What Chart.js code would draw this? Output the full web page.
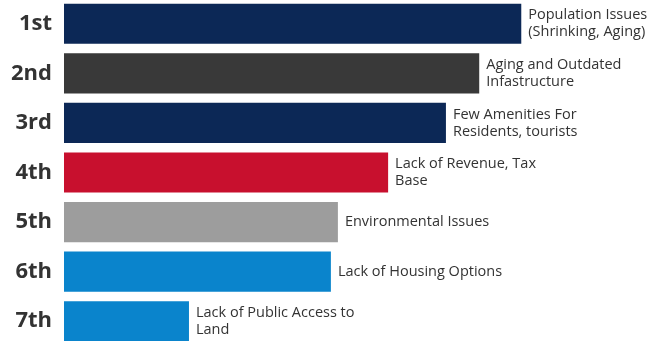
<!DOCTYPE html>
<html>
<head>
<meta charset="utf-8">
<script src="https://cdn.jsdelivr.net/npm/chart.js@4.4.1/dist/chart.umd.min.js"></script>
<style>
  html, body { margin: 0; padding: 0; background: #ffffff; overflow: hidden; }
  #wrap { position: relative; width: 648px; height: 347px; top: -1px; }
</style>
</head>
<body>
<div id="wrap"><canvas id="chart"></canvas></div>
<script>
// Ranked community challenges
const ranks = ['1st', '2nd', '3rd', '4th', '5th', '6th', '7th'];
const issues = [
  ['Population Issues', '(Shrinking, Aging)'],
  ['Aging and Outdated', 'Infastructure'],
  ['Few Amenities For', 'Residents, tourists'],
  ['Lack of Revenue, Tax', 'Base'],
  ['Environmental Issues'],
  ['Lack of Housing Options'],
  ['Lack of Public Access to', 'Land']
];
const scores = [78.3, 71.1, 65.4, 55.5, 46.9, 45.7, 21.4];
const barColors = ['#0c2856', '#393939', '#0c2856', '#c8102e', '#9d9d9d', '#0a84cc', '#0a84cc'];

// Writes each issue name just past the end of its bar
const issueLabels = {
  id: 'issueLabels',
  afterDatasetsDraw(chart) {
    const ctx = chart.ctx;
    const meta = chart.getDatasetMeta(0);
    ctx.save();
    ctx.font = '14.5px "Open Sans", "Noto Sans", sans-serif';
    ctx.fillStyle = '#333333';
    ctx.textAlign = 'left';
    ctx.textBaseline = 'middle';
    const lineH = 17;
    meta.data.forEach((bar, i) => {
      const lines = issues[i];
      const startY = bar.y - (lines.length - 1) * lineH / 2;
      lines.forEach((t, k) => ctx.fillText(t, bar.x + 7, startY + k * lineH));
    });
    ctx.restore();
  }
};

new Chart(document.getElementById('chart'), {
  type: 'bar',
  data: {
    labels: ranks,
    datasets: [{
      data: scores,
      backgroundColor: barColors,
      borderWidth: 0,
      categoryPercentage: 0.81,
      barPercentage: 1
    }]
  },
  options: {
    indexAxis: 'y',
    responsive: true,
    maintainAspectRatio: false,
    animation: false,
    layout: { padding: 0 },
    plugins: { legend: { display: false }, tooltip: { enabled: false } },
    scales: {
      x: {
        display: false,
        min: 0,
        max: 100
      },
      y: {
        grid: { display: false, drawTicks: false },
        border: { display: false },
        ticks: {
          color: '#333333',
          padding: 12,
          font: { family: '"Open Sans", "Noto Sans", sans-serif', size: 22, weight: 'bold' }
        },
        afterFit(scale) {
          scale.width = 64;
          scale.paddingTop = 0;
          scale.paddingBottom = 0;
        }
      }
    }
  },
  plugins: [issueLabels]
});
</script>
</body>
</html>
